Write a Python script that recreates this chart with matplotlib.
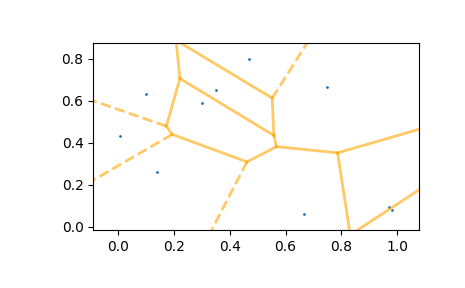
import numpy as np
import matplotlib
matplotlib.use('Agg')
import matplotlib.pyplot as plt
import matplotlib.tri as mtri

# Seed points
pts_x = [0.0095, 0.102, 0.1416, 0.302, 0.352, 0.470, 0.667, 0.749, 0.9695, 0.9815]
pts_y = [0.434, 0.634, 0.263, 0.591, 0.653, 0.800, 0.0588, 0.667, 0.0939, 0.0801]

points = np.column_stack([pts_x, pts_y])


# circumcentre of a triangle -> voronoi vertex
def circumcenter(a, b, c):
    d = 2 * (a[0]*(b[1]-c[1]) + b[0]*(c[1]-a[1]) + c[0]*(a[1]-b[1]))
    ux = ((a @ a)*(b[1]-c[1]) + (b @ b)*(c[1]-a[1]) + (c @ c)*(a[1]-b[1])) / d
    uy = ((a @ a)*(c[0]-b[0]) + (b @ b)*(a[0]-c[0]) + (c @ c)*(b[0]-a[0])) / d
    return np.array([ux, uy])


tri = mtri.Triangulation(points[:, 0], points[:, 1])
verts = np.array([circumcenter(*points[t]) for t in tri.triangles])

center = points.mean(axis=0)
ptp_bound = np.ptp(points, axis=0)

finite_segs = []
infinite_segs = []
for i, t in enumerate(tri.triangles):
    for k in range(3):
        p0, p1 = t[k], t[(k + 1) % 3]
        nb = tri.neighbors[i, k]
        if nb >= 0:
            if nb > i:
                finite_segs.append([verts[i], verts[nb]])
        else:
            tangent = points[p1] - points[p0]
            tangent /= np.linalg.norm(tangent)
            normal = np.array([-tangent[1], tangent[0]])
            midpoint = points[[p0, p1]].mean(axis=0)
            direction = np.sign(np.dot(midpoint - center, normal)) * normal
            far = verts[i] + direction * ptp_bound.max()
            infinite_segs.append([verts[i], far])

fig = plt.figure(figsize=(4.65, 2.88), dpi=100)
ax = fig.add_axes([0.2007, 0.2014, 0.701, 0.648])

ax.plot(points[:, 0], points[:, 1], '.', markersize=2)
for s in finite_segs:
    s = np.array(s)
    ax.plot(s[:, 0], s[:, 1], color='orange', lw=2, alpha=0.6, ls='solid')
for s in infinite_segs:
    s = np.array(s)
    ax.plot(s[:, 0], s[:, 1], color='orange', lw=2, alpha=0.6, ls='dashed')

margin = 0.1 * ptp_bound
ax.set_xlim(points[:, 0].min() - margin[0], points[:, 0].max() + margin[0])
ax.set_ylim(points[:, 1].min() - margin[1], points[:, 1].max() + margin[1])

fig.savefig('out.png', dpi=100)
